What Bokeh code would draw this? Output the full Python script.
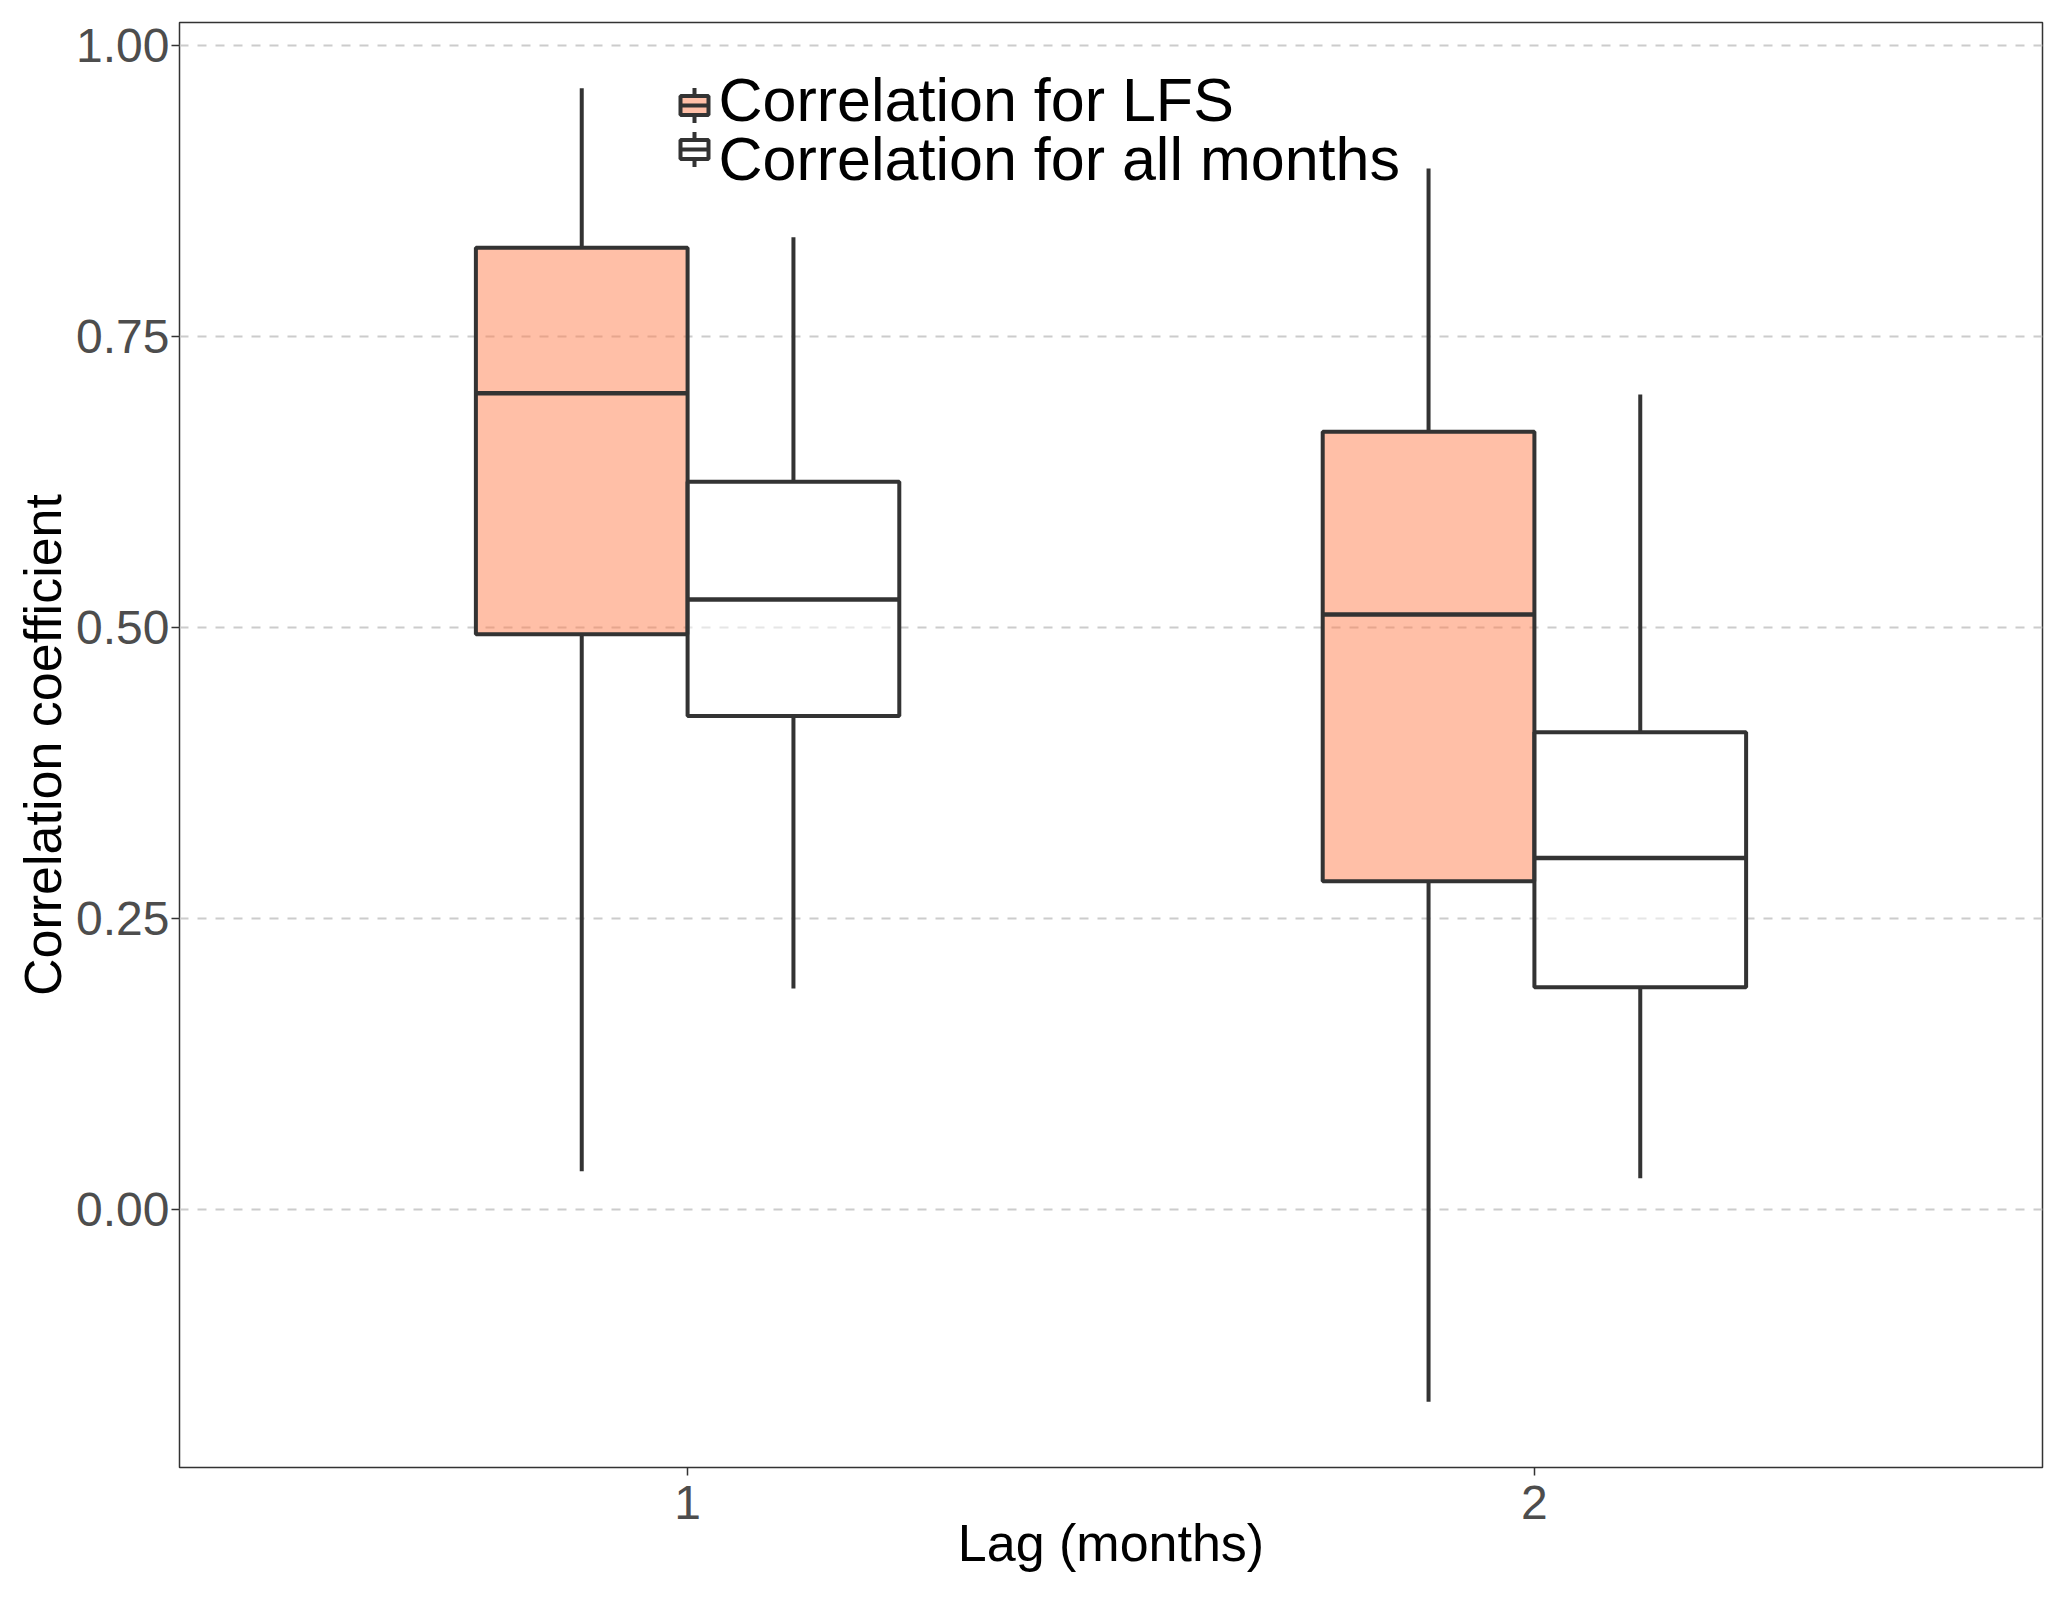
import numpy as np
from bokeh.plotting import figure
from bokeh.models import (BoxAnnotation, ColumnDataSource, FixedTicker, Label,
                          NumeralTickFormatter, Range1d)
from bokeh.embed import file_html
from bokeh.resources import INLINE

# data
lags = [1, 2]
groups = ["Correlation for LFS", "Correlation for all months"]
fills = ["#FF7F50", "white"]

lfs_low = [0.033, -0.165]
lfs_q1 = [0.494, 0.282]
lfs_med = [0.701, 0.511]
lfs_q3 = [0.826, 0.668]
lfs_high = [0.963, 0.894]

all_low = [0.190, 0.027]
all_q1 = [0.424, 0.191]
all_med = [0.524, 0.302]
all_q3 = [0.625, 0.410]
all_high = [0.835, 0.700]

y_ticks = [0.0, 0.25, 0.5, 0.75, 1.0]

BOX_W = 0.25
FONT = "Liberation Sans"
EDGE = "#333333"
LW = 4

"""y range like ggplot: 5% padding around the whiskers"""
lo = min(lfs_low + all_low)
hi = max(lfs_high + all_high)
pad = (hi - lo) * 0.05

p = figure(width=2059, height=1595, x_range=Range1d(0.4, 2.6), y_range=Range1d(lo - pad, hi + pad),
           output_backend="svg", toolbar_location=None,
           min_border_left=179, min_border_right=17, min_border_top=22, min_border_bottom=128)
p.background_fill_color = "white"
p.border_fill_color = "white"
p.outline_line_color = EDGE
p.outline_line_width = 1.5


def box_source(low, q1, med, q3, high, shift):
    x = [l + shift for l in lags]
    return ColumnDataSource(dict(
        x=x,
        x0=[v - BOX_W / 2 for v in x],
        x1=[v + BOX_W / 2 for v in x],
        low=low, q1=q1, med=med, q3=q3, high=high))


def draw_box(src, fill):
    p.segment(x0="x", y0="q3", x1="x", y1="high", source=src, line_color=EDGE, line_width=LW)
    p.segment(x0="x", y0="low", x1="x", y1="q1", source=src, line_color=EDGE, line_width=LW)
    p.vbar(x="x", width=BOX_W, bottom="q1", top="q3", source=src,
           fill_color=fill, fill_alpha=0.5, line_color=EDGE, line_width=LW)
    p.segment(x0="x0", y0="med", x1="x1", y1="med", source=src, line_color=EDGE, line_width=LW + 0.5)


draw_box(box_source(lfs_low, lfs_q1, lfs_med, lfs_q3, lfs_high, -BOX_W / 2), fills[0])
draw_box(box_source(all_low, all_q1, all_med, all_q3, all_high, BOX_W / 2), fills[1])

"""axes"""
p.xaxis.ticker = FixedTicker(ticks=lags)
p.yaxis.ticker = FixedTicker(ticks=y_ticks)
p.yaxis.formatter = NumeralTickFormatter(format="0.00")
p.xaxis.axis_label = "Lag (months)"
p.yaxis.axis_label = "Correlation coefficient"
for ax in (p.xaxis, p.yaxis):
    ax.axis_line_color = None
    ax.major_tick_out = 8
    ax.major_tick_in = 0
    ax.minor_tick_out = 0
    ax.minor_tick_in = 0
    ax.major_tick_line_color = EDGE
    ax.major_tick_line_width = 1.5
    ax.major_label_text_font = FONT
    ax.major_label_text_font_size = "48px"
    ax.major_label_text_color = "#4D4D4D"
    ax.major_label_standoff = 2
    ax.axis_label_text_font = FONT
    ax.axis_label_text_font_size = "52px"
    ax.axis_label_text_font_style = "normal"
    ax.axis_label_text_color = "black"
p.xaxis.major_label_standoff = 10
p.xaxis.axis_label_standoff = -8
p.yaxis.axis_label_standoff = 1

p.xgrid.grid_line_color = None
p.ygrid.grid_line_color = "#CCCCCC"
p.ygrid.grid_line_width = 2
p.ygrid.grid_line_dash = "9 9"

"""legend: small boxplot keys plus labels (screen px from the frame's bottom-left)"""
KEY_X = 515
key_rows = [1362, 1318]
text_rows = [1368, 1309]
for label, fill, ky, ty in zip(groups, fills, key_rows, text_rows):
    p.add_layout(Label(x=539, y=ty, x_units="screen", y_units="screen", text=label,
                       text_font=FONT, text_font_size="61px", text_color="black",
                       text_align="left", text_baseline="middle"))
    parts = [
        # box
        dict(left=KEY_X - 14, right=KEY_X + 14, bottom=ky - 9.5, top=ky + 9.5,
             fill_color=fill, fill_alpha=0.5, line_color=EDGE, line_alpha=1, line_width=LW),
        # median
        dict(left=KEY_X - 14, right=KEY_X + 14, bottom=ky - 2, top=ky + 2,
             fill_color=EDGE, fill_alpha=1, line_color=None),
        # whiskers
        dict(left=KEY_X - 2, right=KEY_X + 2, bottom=ky + 9.5, top=ky + 17.5,
             fill_color=EDGE, fill_alpha=1, line_color=None),
        dict(left=KEY_X - 2, right=KEY_X + 2, bottom=ky - 17.5, top=ky - 9.5,
             fill_color=EDGE, fill_alpha=1, line_color=None),
    ]
    for kw in parts:
        p.add_layout(BoxAnnotation(left_units="screen", right_units="screen",
                                   top_units="screen", bottom_units="screen", **kw))

open("out.html", "w").write(file_html(p, INLINE))
